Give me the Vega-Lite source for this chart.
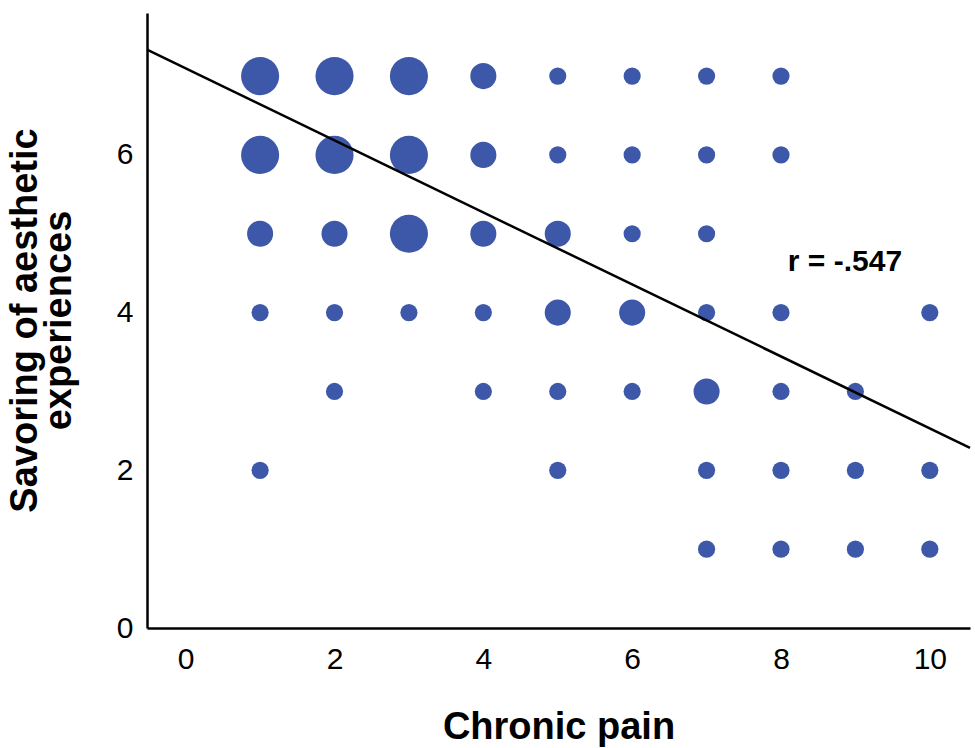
{
  "$schema": "https://vega.github.io/schema/vega-lite/v6.json",
  "width": 823,
  "height": 615,
  "autosize": {"type": "none"},
  "padding": {"left": 147, "top": 13, "right": 5, "bottom": 120},
  "background": "white",
  "config": {
    "view": {"stroke": null},
    "font": "Liberation Sans"
  },
  "datasets": {
    "points": [
      {"pain": 1, "savoring": 7, "n": 4},
      {"pain": 2, "savoring": 7, "n": 4},
      {"pain": 3, "savoring": 7, "n": 4},
      {"pain": 4, "savoring": 7, "n": 2},
      {"pain": 5, "savoring": 7, "n": 1},
      {"pain": 6, "savoring": 7, "n": 1},
      {"pain": 7, "savoring": 7, "n": 1},
      {"pain": 8, "savoring": 7, "n": 1},
      {"pain": 1, "savoring": 6, "n": 4},
      {"pain": 2, "savoring": 6, "n": 4},
      {"pain": 3, "savoring": 6, "n": 4},
      {"pain": 4, "savoring": 6, "n": 2},
      {"pain": 5, "savoring": 6, "n": 1},
      {"pain": 6, "savoring": 6, "n": 1},
      {"pain": 7, "savoring": 6, "n": 1},
      {"pain": 8, "savoring": 6, "n": 1},
      {"pain": 1, "savoring": 5, "n": 2},
      {"pain": 2, "savoring": 5, "n": 2},
      {"pain": 3, "savoring": 5, "n": 4},
      {"pain": 4, "savoring": 5, "n": 2},
      {"pain": 5, "savoring": 5, "n": 2},
      {"pain": 6, "savoring": 5, "n": 1},
      {"pain": 7, "savoring": 5, "n": 1},
      {"pain": 1, "savoring": 4, "n": 1},
      {"pain": 2, "savoring": 4, "n": 1},
      {"pain": 3, "savoring": 4, "n": 1},
      {"pain": 4, "savoring": 4, "n": 1},
      {"pain": 5, "savoring": 4, "n": 2},
      {"pain": 6, "savoring": 4, "n": 2},
      {"pain": 7, "savoring": 4, "n": 1},
      {"pain": 8, "savoring": 4, "n": 1},
      {"pain": 10, "savoring": 4, "n": 1},
      {"pain": 2, "savoring": 3, "n": 1},
      {"pain": 4, "savoring": 3, "n": 1},
      {"pain": 5, "savoring": 3, "n": 1},
      {"pain": 6, "savoring": 3, "n": 1},
      {"pain": 7, "savoring": 3, "n": 2},
      {"pain": 8, "savoring": 3, "n": 1},
      {"pain": 9, "savoring": 3, "n": 1},
      {"pain": 1, "savoring": 2, "n": 1},
      {"pain": 5, "savoring": 2, "n": 1},
      {"pain": 7, "savoring": 2, "n": 1},
      {"pain": 8, "savoring": 2, "n": 1},
      {"pain": 9, "savoring": 2, "n": 1},
      {"pain": 10, "savoring": 2, "n": 1},
      {"pain": 7, "savoring": 1, "n": 1},
      {"pain": 8, "savoring": 1, "n": 1},
      {"pain": 9, "savoring": 1, "n": 1},
      {"pain": 10, "savoring": 1, "n": 1}
    ],
    "fit": [
      {"pain": -0.52, "savoring": 7.335},
      {"pain": 10.54, "savoring": 2.284}
    ],
    "label": [
      {"pain": 8.86, "savoring": 4.64, "text": "r = -.547"}
    ]
  },
  "layer": [
    {
      "data": {"name": "points"},
      "mark": {"type": "circle", "color": "#3D58A8", "opacity": 1},
      "encoding": {
        "x": {
          "field": "pain", "type": "quantitative",
          "scale": {"domain": [-0.52, 10.54], "nice": false, "zero": false},
          "axis": {
            "title": "Chronic pain",
            "values": [0, 2, 4, 6, 8, 10],
            "format": "d",
            "grid": false, "ticks": false, "tickSize": 0,
            "domainColor": "black", "domainWidth": 2.5,
            "labelFont": "Liberation Sans", "labelFontSize": 30, "labelColor": "black",
            "labelPadding": 16,
            "titleFont": "Liberation Sans", "titleFontSize": 38, "titleFontWeight": "bold", "titleColor": "black",
            "titleX": 411.5, "titleY": 110, "titleBaseline": "alphabetic", "titleAlign": "center"
          }
        },
        "y": {
          "field": "savoring", "type": "quantitative",
          "scale": {"domain": [0, 7.8], "nice": false, "zero": false},
          "axis": {
            "title": ["Savoring of aesthetic", "experiences"],
            "values": [0, 2, 4, 6],
            "format": "d",
            "grid": false, "ticks": false, "tickSize": 0,
            "domainColor": "black", "domainWidth": 2.5,
            "labelFont": "Liberation Sans", "labelFontSize": 30, "labelColor": "black",
            "labelPadding": 14,
            "titleFont": "Liberation Sans", "titleFontSize": 38, "titleFontWeight": "bold", "titleColor": "black",
            "titleLineHeight": 34,
            "titleAngle": -90, "titleX": -103, "titleY": 307, "titleBaseline": "bottom", "titleAlign": "center"
          }
        },
        "size": {
          "field": "n", "type": "quantitative",
          "scale": {"domain": [1, 4], "range": [295, 1452]},
          "legend": null
        }
      }
    },
    {
      "data": {"name": "fit"},
      "mark": {"type": "line", "color": "black", "strokeWidth": 2.5},
      "encoding": {
        "x": {"field": "pain", "type": "quantitative"},
        "y": {"field": "savoring", "type": "quantitative"}
      }
    },
    {
      "data": {"name": "label"},
      "mark": {"type": "text", "font": "Liberation Sans", "fontSize": 30, "fontWeight": "bold", "color": "black", "align": "center", "baseline": "middle"},
      "encoding": {
        "x": {"field": "pain", "type": "quantitative"},
        "y": {"field": "savoring", "type": "quantitative"},
        "text": {"field": "text"}
      }
    }
  ]
}
